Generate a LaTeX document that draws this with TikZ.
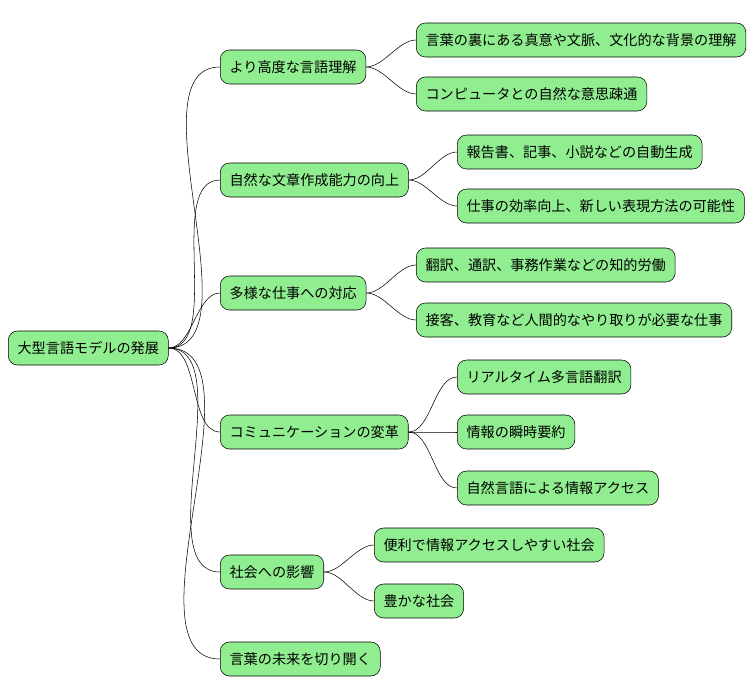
\documentclass[tikz,border=0pt]{standalone}
\usepackage{fontspec}
\setmainfont{Noto Sans CJK JP}
\usetikzlibrary{positioning}
\definecolor{leafgreen}{HTML}{90EE90}

\begin{document}
\begin{tikzpicture}[x=0.75pt,y=-0.75pt,
  topic/.style={draw,fill=leafgreen,rounded corners=7pt,anchor=west,
    minimum height=25.5pt,inner xsep=7pt,font=\fontsize{10.6}{13}\selectfont},
  link/.style={draw,thin,out=0,in=180,looseness=0.8}]

  \useasboundingbox (0,0) rectangle (754,696);

  \node[topic] (root) at (8,348) {大型言語モデルの発展};

  \node[topic] (a) at (220,67) {より高度な言語理解};
  \node[topic] (b) at (220,180) {自然な文章作成能力の向上};
  \node[topic] (c) at (220,293) {多様な仕事への対応};
  \node[topic] (d) at (220,432) {コミュニケーションの変革};
  \node[topic] (e) at (220,572) {社会への影響};
  \node[topic] (f) at (220,659) {言葉の未来を切り開く};

  \node[topic] (a1) at (416,40) {言葉の裏にある真意や文脈、文化的な背景の理解};
  \node[topic] (a2) at (416,94) {コンピュータとの自然な意思疎通};
  \node[topic] (b1) at (457,152) {報告書、記事、小説などの自動生成};
  \node[topic] (b2) at (457,206) {仕事の効率向上、新しい表現方法の可能性};
  \node[topic] (c1) at (416,265) {翻訳、通訳、事務作業などの知的労働};
  \node[topic] (c2) at (416,320) {接客、教育など人間的なやり取りが必要な仕事};
  \node[topic] (d1) at (457,377) {リアルタイム多言語翻訳};
  \node[topic] (d2) at (457,432) {情報の瞬時要約};
  \node[topic] (d3) at (457,488) {自然言語による情報アクセス};
  \node[topic] (e1) at (374,545) {便利で情報アクセスしやすい社会};
  \node[topic] (e2) at (374,601) {豊かな社会};

  \foreach \t in {a,b,c,d,e,f}
    \path (root.east) edge[link] (\t.west);
  \foreach \p/\t in {a/a1,a/a2,b/b1,b/b2,c/c1,c/c2,d/d1,d/d2,d/d3,e/e1,e/e2}
    \path (\p.east) edge[link] (\t.west);
\end{tikzpicture}
\end{document}
